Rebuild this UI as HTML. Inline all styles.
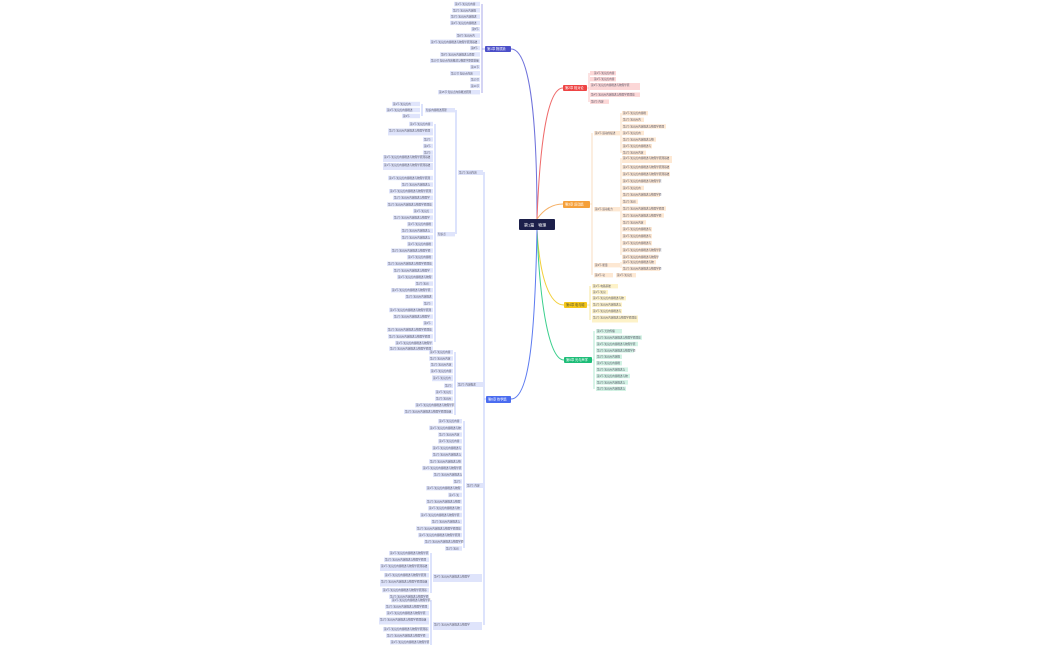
<!DOCTYPE html>
<html><head><meta charset="utf-8"><style>
html,body{margin:0;padding:0;background:#fff;width:1050px;height:650px;overflow:hidden}
svg{display:block}
text{font-family:"Liberation Sans","Noto Sans CJK SC",sans-serif;font-size:2.6px;fill:#556}
.b rect{fill:#dfe4fb}.r rect{fill:#fcd7d7}.o rect{fill:#fde8d3}.y rect{fill:#fdf2c8}.g rect{fill:#d2f2e4}
.w{fill:#fff!important;font-size:3.2px}
</style></head><body>
<svg width="1050" height="650" viewBox="0 0 1050 650" xmlns="http://www.w3.org/2000/svg">
<g fill="none" stroke-width="1">
<path d="M537,219 C537,120 530,49 511,49" stroke="#6f72db"/>
<path d="M537,219 C540,140 548,88 563,88" stroke="#ef6b6b"/>
<path d="M537,219 C542,212 550,204 563,204" stroke="#f5b066"/>
<path d="M537,230 C540,280 550,305 564,305" stroke="#f2cf3a"/>
<path d="M537,230 C540,310 550,360 564,360" stroke="#3bcf8d"/>
<path d="M537,230 C535,330 530,399 511,399" stroke="#5d7bf0"/>
</g>
<g stroke-width="0.6" fill="none">
<path d="M482,4V93M482,49H485" stroke="#6f72db"/>
<path d="M589,73V102M587,88H589" stroke="#f3a0a0"/>
<path d="M592,133V275M590,204H592M621,113V153M621,158V255M621,262V268" stroke="#f7c99a"/>
<path d="M590,286V320M587,305H590" stroke="#f2d85e"/>
<path d="M594,331V389M592,360H594" stroke="#7fdcb2"/>
<path d="M484,172V625M484,399H486M456,110V234M422,104V116M435,124V342M455,352V415M464,421V548M431,553V593M431,600V645" stroke="#8ea2f3"/>
</g>
<rect x="519" y="219" width="36" height="11" rx="1" fill="#1c1f4a"/><text x="524" y="226.3" class="w" style="font-size:4px">第1篇　物理</text>
<rect x="485" y="46" width="26" height="6" rx="1" fill="#4b4fc9"/><text x="487" y="50.2" class="w">第1章 物质篇</text>
<rect x="563" y="85" width="24" height="6" rx="1" fill="#ee4444"/><text x="565" y="89.2" class="w">第2章 相对论</text>
<rect x="563" y="201" width="27" height="7" rx="1" fill="#f5a03a"/><text x="565" y="205.6" class="w">第3章 运动篇</text>
<rect x="564" y="302" width="23" height="6" rx="1" fill="#f4c61a"/><text x="566" y="306.2" class="w" style="fill:#553!important">第4章 电与磁</text>
<rect x="564" y="357" width="28" height="6" rx="1" fill="#1dbd78"/><text x="566" y="361.2" class="w">第5章 光与声学</text>
<rect x="486" y="396" width="25" height="7" rx="1" fill="#4a6cf0"/><text x="488" y="400.6" class="w">第6章 热学篇</text>
<g class="b">
<rect x="454" y="1.8" width="26" height="4.4"/><rect x="452" y="8.1" width="28" height="4.4"/><rect x="450" y="14.4" width="30" height="4.4"/><rect x="450" y="20.7" width="30" height="4.4"/><rect x="471" y="27" width="9" height="4.4"/><rect x="456" y="33.3" width="24" height="4.4"/><rect x="430" y="39.6" width="50" height="4.4"/><rect x="470" y="45.9" width="10" height="4.4"/><rect x="440" y="52.2" width="40" height="4.4"/><rect x="430" y="58.5" width="50" height="4.4"/><rect x="470" y="64.8" width="10" height="4.4"/><rect x="450" y="71.1" width="30" height="4.4"/><rect x="470" y="77.4" width="10" height="4.4"/><rect x="470" y="83.7" width="10" height="4.4"/><rect x="438" y="90" width="42" height="4.4"/>
<rect x="458" y="170" width="25" height="5"/><rect x="425" y="108" width="30" height="4.4"/><rect x="392" y="101.8" width="28" height="4.4"/><rect x="386" y="107.8" width="34" height="4.4"/><rect x="402" y="113.8" width="18" height="4.4"/><rect x="437" y="232" width="18" height="4.4"/>
<rect x="409" y="121.8" width="24" height="4.4"/><rect x="388" y="128.4" width="45" height="7"/><rect x="423" y="137.2" width="10" height="4.4"/><rect x="423" y="143.8" width="10" height="4.4"/><rect x="423" y="150.4" width="10" height="4.4"/><rect x="383" y="155" width="50" height="7"/><rect x="383" y="163" width="50" height="7"/><rect x="388" y="175.8" width="45" height="4.4"/><rect x="401" y="182.4" width="32" height="4.4"/><rect x="389" y="189" width="44" height="4.4"/><rect x="393" y="195.6" width="40" height="4.4"/><rect x="387" y="202.2" width="46" height="4.4"/><rect x="413" y="208.8" width="20" height="4.4"/><rect x="393" y="215.4" width="40" height="4.4"/><rect x="407" y="222" width="26" height="4.4"/><rect x="401" y="228.6" width="32" height="4.4"/><rect x="401" y="235.2" width="32" height="4.4"/><rect x="407" y="241.8" width="26" height="4.4"/><rect x="391" y="248.4" width="42" height="4.4"/><rect x="407" y="255" width="26" height="4.4"/><rect x="387" y="261.6" width="46" height="4.4"/><rect x="393" y="268.2" width="40" height="4.4"/><rect x="397" y="274.8" width="36" height="4.4"/><rect x="415" y="281.4" width="18" height="4.4"/><rect x="391" y="288" width="42" height="4.4"/><rect x="405" y="294.6" width="28" height="4.4"/><rect x="423" y="301.2" width="10" height="4.4"/><rect x="389" y="307.8" width="44" height="4.4"/><rect x="393" y="314.4" width="40" height="4.4"/><rect x="423" y="321" width="10" height="4.4"/><rect x="387" y="327.6" width="46" height="4.4"/><rect x="388" y="334.2" width="45" height="4.4"/><rect x="395" y="340.8" width="38" height="4.4"/><rect x="389" y="346.4" width="44" height="4.4"/>
<rect x="457" y="382" width="26" height="5"/>
<rect x="429" y="350" width="24" height="4.4"/><rect x="429" y="356.3" width="24" height="4.4"/><rect x="430" y="362.6" width="23" height="4.4"/><rect x="430" y="368.9" width="23" height="4.4"/><rect x="432" y="375.2" width="21" height="6"/><rect x="444" y="383.5" width="9" height="4.4"/><rect x="435" y="390" width="18" height="4.4"/><rect x="435" y="396.5" width="18" height="4.4"/><rect x="415" y="403" width="38" height="4.4"/><rect x="404" y="409.5" width="49" height="4.4"/>
<rect x="466" y="483" width="17" height="5"/>
<rect x="438" y="419" width="24" height="4.4"/><rect x="429" y="425.7" width="33" height="4.4"/><rect x="438" y="432.4" width="24" height="4.4"/><rect x="438" y="439.1" width="24" height="4.4"/><rect x="432" y="445.8" width="30" height="4.4"/><rect x="432" y="452.5" width="30" height="4.4"/><rect x="429" y="459.2" width="33" height="4.4"/><rect x="422" y="465.9" width="40" height="4.4"/><rect x="433" y="472.6" width="29" height="4.4"/><rect x="453" y="479.3" width="9" height="4.4"/><rect x="426" y="486" width="36" height="4.4"/><rect x="448" y="492.7" width="14" height="4.4"/><rect x="426" y="499.4" width="36" height="4.4"/><rect x="428" y="506.1" width="34" height="4.4"/><rect x="420" y="512.8" width="42" height="4.4"/><rect x="431" y="519.5" width="31" height="4.4"/><rect x="416" y="526.2" width="46" height="4.4"/><rect x="418" y="532.9" width="44" height="4.4"/><rect x="424" y="539.6" width="38" height="4.4"/><rect x="445" y="546.3" width="17" height="4.4"/>
<rect x="433" y="574" width="49" height="8"/>
<rect x="389" y="551" width="40" height="4.4"/><rect x="384" y="557.5" width="45" height="4.4"/><rect x="380" y="564" width="49" height="7"/><rect x="384" y="573" width="45" height="4.4"/><rect x="380" y="579.5" width="49" height="7"/><rect x="382" y="588" width="47" height="4.4"/><rect x="389" y="594.5" width="40" height="4.4"/>
<rect x="433" y="622" width="49" height="8"/>
<rect x="391" y="598" width="38" height="4.4"/><rect x="385" y="604.5" width="44" height="4.4"/><rect x="386" y="611" width="43" height="4.4"/><rect x="379" y="617.5" width="50" height="7"/><rect x="383" y="627" width="46" height="4.4"/><rect x="386" y="633.5" width="43" height="4.4"/><rect x="390" y="640" width="39" height="4.4"/>
</g>
<g class="r"><rect x="590" y="71" width="26" height="4.4"/><rect x="590" y="77" width="26" height="4.4"/><rect x="590" y="83" width="50" height="7"/><rect x="590" y="92.5" width="50" height="4.4"/><rect x="590" y="99.5" width="19" height="4.4"/></g>
<g class="o"><rect x="594" y="131" width="26" height="4.4"/><rect x="594" y="207" width="26" height="4.4"/><rect x="594" y="263" width="26" height="4.4"/><rect x="594" y="273" width="19" height="4.4"/>
<rect x="622" y="111" width="26" height="4.4"/><rect x="622" y="117.6" width="22" height="4.4"/><rect x="622" y="124.2" width="44" height="4.4"/><rect x="622" y="130.8" width="22" height="4.4"/><rect x="622" y="137.4" width="34" height="4.4"/><rect x="622" y="144" width="30" height="4.4"/><rect x="622" y="150.6" width="24" height="4.4"/>
<rect x="622" y="156" width="50" height="7"/><rect x="622" y="165" width="48" height="4.4"/><rect x="622" y="171.9" width="48" height="4.4"/><rect x="622" y="178.8" width="38" height="4.4"/><rect x="622" y="185.7" width="22" height="4.4"/><rect x="622" y="192.6" width="38" height="4.4"/><rect x="622" y="199.5" width="16" height="4.4"/><rect x="622" y="206.4" width="44" height="4.4"/><rect x="622" y="213.3" width="42" height="4.4"/><rect x="622" y="220.2" width="24" height="4.4"/><rect x="622" y="227.1" width="30" height="4.4"/><rect x="622" y="234" width="30" height="4.4"/><rect x="622" y="240.9" width="30" height="4.4"/><rect x="622" y="247.8" width="38" height="4.4"/><rect x="622" y="254.7" width="36" height="4.4"/>
<rect x="622" y="260" width="34" height="4.4"/><rect x="622" y="266.5" width="38" height="4.4"/><rect x="616" y="273" width="20" height="4.4"/></g>
<g class="y"><rect x="592" y="284" width="26" height="4.4"/><rect x="592" y="290" width="16" height="4.4"/><rect x="592" y="296" width="34" height="4.4"/><rect x="592" y="302.5" width="30" height="4.4"/><rect x="592" y="309" width="30" height="4.4"/><rect x="592" y="315.5" width="46" height="7"/></g>
<g class="g"><rect x="596" y="329" width="26" height="4.4"/><rect x="596" y="335.4" width="46" height="4.4"/><rect x="596" y="341.8" width="42" height="4.4"/><rect x="596" y="348.2" width="38" height="4.4"/><rect x="596" y="354.6" width="26" height="4.4"/><rect x="596" y="361" width="26" height="4.4"/><rect x="596" y="367.4" width="32" height="4.4"/><rect x="596" y="373.8" width="34" height="4.4"/><rect x="596" y="380.2" width="32" height="4.4"/><rect x="596" y="386.6" width="30" height="4.4"/></g>
<g>
<text x="455" y="5">第1节 知识点内容</text><text x="453" y="11.3">第2节 知识点内容概</text><text x="451" y="17.6">第3节 知识点内容概述</text><text x="451" y="23.9">第4节 知识点内容概述</text><text x="472" y="30.2">第5节</text><text x="457" y="36.5">第6节 知识点内</text><text x="431" y="42.8">第7节 知识点内容概述与物理学原理基础</text><text x="471" y="49.1">第8节</text><text x="441" y="55.4">第9节 知识点内容概述与原理</text><text x="431" y="61.7">第10节 知识点内容概述与物理学原理基础</text><text x="471" y="68">第11节</text><text x="451" y="74.3">第12节 知识点内容</text><text x="471" y="80.6">第13节</text><text x="471" y="86.9">第14节</text><text x="439" y="93.2">第15节 知识点内容概述原理</text>
<text x="459" y="173.4">第1节 知识内容</text><text x="426" y="111.2">知识内容概述原理</text><text x="393" y="105">第1节 知识点内</text><text x="387" y="111">第2节 知识点内容概述</text><text x="403" y="117">第3节</text><text x="438" y="235.2">知识点</text>
<text x="594" y="74.2">第1节 知识点内容</text><text x="594" y="80.2">第2节 知识点内容</text><text x="591" y="86">第3节 知识点内容概述与物理学原</text><text x="591" y="95.7">第4节 知识点内容概述与物理学原理基</text><text x="591" y="102.7">第5节 内容</text>
<text x="595" y="134.2">第1节 运动的描述</text><text x="595" y="210.2">第2节 运动和力</text><text x="595" y="266.2">第3节 能量</text><text x="595" y="276.2">第4节 功</text>
<text x="593" y="287.2">第1节 电路基础</text><text x="597" y="332.2">第1节 光的传播</text>
<text x="434" y="577.4">第4节 知识点内容概述与物理学</text><text x="434" y="625.4">第5节 知识点内容概述与物理学</text>
<text x="458" y="385.4">第2节 内容概述</text><text x="467" y="486.4">第3节 内容</text>

<text x="410" y="124.9">第1节 知识点内容</text><text x="389" y="131.5">第1节 知识点内容概述与物理学原理</text><text x="424" y="140.3">第2节</text><text x="424" y="146.9">第2节</text><text x="424" y="153.5">第2节</text><text x="384" y="158.1">第1节 知识点内容概述与物理学原理基础</text><text x="384" y="166.1">第1节 知识点内容概述与物理学原理基础</text><text x="389" y="178.9">第1节 知识点内容概述与物理学原理</text><text x="402" y="185.5">第1节 知识点内容概述与</text><text x="390" y="192.1">第1节 知识点内容概述与物理学原理</text><text x="394" y="198.7">第1节 知识点内容概述与物理学</text><text x="388" y="205.3">第1节 知识点内容概述与物理学原理基</text><text x="414" y="211.9">第1节 知识点</text><text x="394" y="218.5">第1节 知识点内容概述与物理学</text><text x="408" y="225.1">第1节 知识点内容概</text><text x="402" y="231.7">第1节 知识点内容概述与</text><text x="402" y="238.3">第1节 知识点内容概述与</text><text x="408" y="244.9">第1节 知识点内容概</text><text x="392" y="251.5">第1节 知识点内容概述与物理学原</text><text x="408" y="258.1">第1节 知识点内容概</text><text x="388" y="264.7">第1节 知识点内容概述与物理学原理基</text><text x="394" y="271.3">第1节 知识点内容概述与物理学</text><text x="398" y="277.9">第1节 知识点内容概述与物理</text><text x="416" y="284.5">第1节 知识</text><text x="392" y="291.1">第1节 知识点内容概述与物理学原</text><text x="406" y="297.7">第1节 知识点内容概述</text><text x="424" y="304.3">第2节</text><text x="390" y="310.9">第1节 知识点内容概述与物理学原理</text><text x="394" y="317.5">第1节 知识点内容概述与物理学</text><text x="424" y="324.1">第2节</text><text x="388" y="330.7">第1节 知识点内容概述与物理学原理基</text><text x="389" y="337.3">第1节 知识点内容概述与物理学原理</text><text x="396" y="343.9">第1节 知识点内容概述与物理学</text><text x="390" y="349.5">第1节 知识点内容概述与物理学原理</text>

<text x="430" y="353.1">第1节 知识点内容</text><text x="430" y="359.4">第1节 知识点内容</text><text x="431" y="365.7">第1节 知识点内容</text><text x="431" y="372">第1节 知识点内容</text><text x="433" y="378.8">第1节 知识点内</text><text x="445" y="386.6">第2节</text><text x="436" y="393.1">第1节 知识点</text><text x="436" y="399.6">第1节 知识点</text><text x="416" y="406.1">第1节 知识点内容概述与物理学原</text><text x="405" y="412.6">第1节 知识点内容概述与物理学原理基础</text>

<text x="439" y="422.1">第1节 知识点内容</text><text x="430" y="428.8">第1节 知识点内容概述与物</text><text x="439" y="435.5">第1节 知识点内容</text><text x="439" y="442.2">第1节 知识点内容</text><text x="433" y="448.9">第1节 知识点内容概述与</text><text x="433" y="455.6">第1节 知识点内容概述与</text><text x="430" y="462.3">第1节 知识点内容概述与物</text><text x="423" y="469">第1节 知识点内容概述与物理学原</text><text x="434" y="475.7">第1节 知识点内容概述与</text><text x="454" y="482.4">第2节</text><text x="427" y="489.1">第1节 知识点内容概述与物理</text><text x="449" y="495.8">第1节 知</text><text x="427" y="502.5">第1节 知识点内容概述与物理</text><text x="429" y="509.2">第1节 知识点内容概述与物</text><text x="421" y="515.9">第1节 知识点内容概述与物理学原</text><text x="432" y="522.6">第1节 知识点内容概述与</text><text x="417" y="529.3">第1节 知识点内容概述与物理学原理基</text><text x="419" y="536">第1节 知识点内容概述与物理学原理</text><text x="425" y="542.7">第1节 知识点内容概述与物理学原</text><text x="446" y="549.4">第1节 知识</text>

<text x="390" y="554.1">第1节 知识点内容概述与物理学原</text><text x="385" y="560.6">第1节 知识点内容概述与物理学原理</text><text x="381" y="567.1">第1节 知识点内容概述与物理学原理基础</text><text x="385" y="576.1">第1节 知识点内容概述与物理学原理</text><text x="381" y="582.6">第1节 知识点内容概述与物理学原理基础</text><text x="383" y="591.1">第1节 知识点内容概述与物理学原理基</text><text x="390" y="597.6">第1节 知识点内容概述与物理学原</text>
<text x="392" y="601.1">第1节 知识点内容概述与物理学原</text><text x="386" y="607.6">第1节 知识点内容概述与物理学原理</text><text x="387" y="614.1">第1节 知识点内容概述与物理学原</text><text x="380" y="620.6">第1节 知识点内容概述与物理学原理基础</text><text x="384" y="630.1">第1节 知识点内容概述与物理学原理基</text><text x="387" y="636.6">第1节 知识点内容概述与物理学原</text><text x="391" y="643.1">第1节 知识点内容概述与物理学原</text>

<text x="623" y="114.1">第1节 知识点内容概</text><text x="623" y="120.7">第1节 知识点内</text><text x="623" y="127.3">第1节 知识点内容概述与物理学原理</text><text x="623" y="133.9">第1节 知识点内</text><text x="623" y="140.5">第1节 知识点内容概述与物</text><text x="623" y="147.1">第1节 知识点内容概述与</text><text x="623" y="153.7">第1节 知识点内容</text>
<text x="623" y="159.1">第1节 知识点内容概述与物理学原理基础</text><text x="623" y="168.1">第1节 知识点内容概述与物理学原理基础</text><text x="623" y="175">第1节 知识点内容概述与物理学原理基础</text><text x="623" y="181.9">第1节 知识点内容概述与物理学原</text><text x="623" y="188.8">第1节 知识点内</text><text x="623" y="195.7">第1节 知识点内容概述与物理学原</text><text x="623" y="202.6">第1节 知识</text><text x="623" y="209.5">第1节 知识点内容概述与物理学原理</text><text x="623" y="216.4">第1节 知识点内容概述与物理学原</text><text x="623" y="223.3">第1节 知识点内容</text><text x="623" y="230.2">第1节 知识点内容概述与</text><text x="623" y="237.1">第1节 知识点内容概述与</text><text x="623" y="244">第1节 知识点内容概述与</text><text x="623" y="250.9">第1节 知识点内容概述与物理学原</text><text x="623" y="257.8">第1节 知识点内容概述与物理学</text>
<text x="623" y="263.1">第1节 知识点内容概述与物</text><text x="623" y="269.6">第1节 知识点内容概述与物理学原</text><text x="617" y="276.1">第1节 知识点</text>
<text x="593" y="293.1">第1节 知识</text><text x="593" y="299.1">第1节 知识点内容概述与物</text><text x="593" y="305.6">第1节 知识点内容概述与</text><text x="593" y="312.1">第1节 知识点内容概述与</text><text x="593" y="318.6">第1节 知识点内容概述与物理学原理基</text>
<text x="597" y="338.5">第1节 知识点内容概述与物理学原理基</text><text x="597" y="344.9">第1节 知识点内容概述与物理学原</text><text x="597" y="351.3">第1节 知识点内容概述与物理学原</text><text x="597" y="357.7">第1节 知识点内容概</text><text x="597" y="364.1">第1节 知识点内容概</text><text x="597" y="370.5">第1节 知识点内容概述与</text><text x="597" y="376.9">第1节 知识点内容概述与物</text><text x="597" y="383.3">第1节 知识点内容概述与</text><text x="597" y="389.7">第1节 知识点内容概述与</text>
</g>
</svg>
</body></html>
